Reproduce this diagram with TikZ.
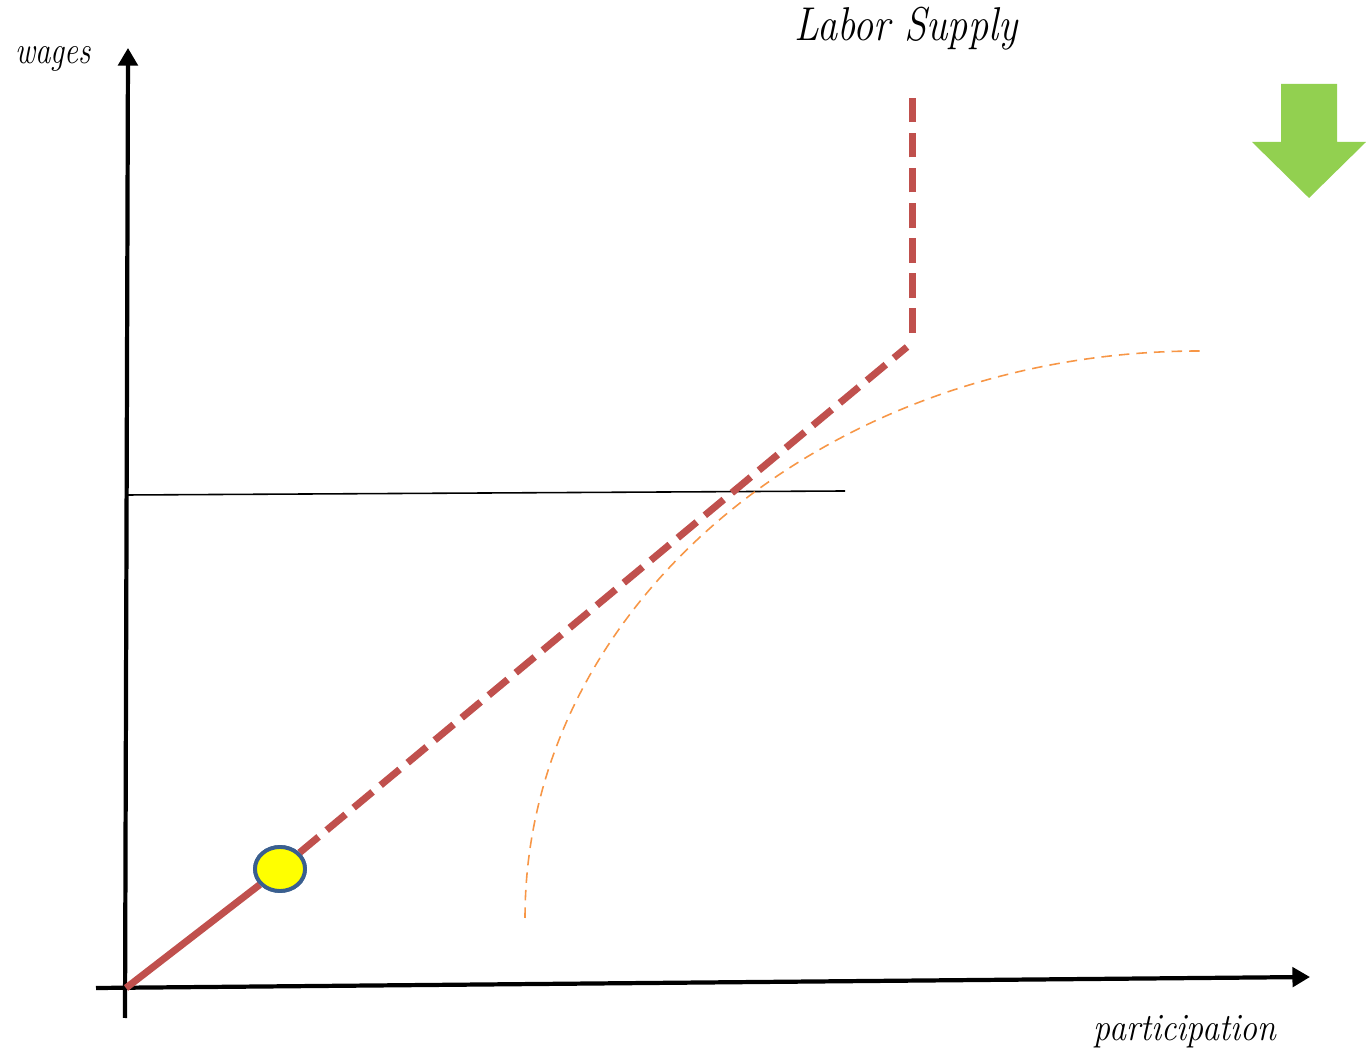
\documentclass[tikz,border=0pt]{standalone}
\definecolor{supplyred}{RGB}{192,80,77}
\definecolor{curveorange}{RGB}{247,150,70}
\definecolor{dotblue}{RGB}{58,95,143}
\definecolor{dotyellow}{RGB}{255,255,0}
\definecolor{arrowgreen}{RGB}{146,208,80}
\usepackage{graphicx}
\usepackage{tikz}
\usetikzlibrary{arrows.meta,shapes.geometric,positioning}
\tikzset{
  axis/.style={line width=1.2pt,-{Triangle[length=5pt,width=5.5pt]}},
  supply/.style={line width=2pt,supplyred},
  supplydash/.style={supply,dash pattern=on 7pt off 3pt},
  dotmark/.style={ellipse,draw=dotblue,fill=dotyellow,line width=1.1pt,
                  minimum width=0.5cm,minimum height=0.44cm,inner sep=0pt},
  label/.style={font=\fontsize{#1}{#1}\selectfont\itshape,inner sep=0pt},
  label/.default=11,
}
\newcommand{\narrow}[2]{\scalebox{#1}[1]{#2}}

\begin{document}
\begin{tikzpicture}
    \useasboundingbox (0,0) rectangle (13.66,10.57);

    % axes
    \coordinate (ybot) at (1.25,0.39);
    \coordinate (ytop) at (1.28,10.09);
    \coordinate (xlft) at (0.96,0.69);
    \coordinate (xrgt) at (13.10,0.80);
    \draw[axis] (ybot) -- (ytop);
    \draw[axis] (xlft) -- (xrgt);

    \node[label]     (wg) at (0.53,9.98)  {\narrow{0.8}{wages}};
    \node[label]     (pt) at (11.85,0.25) {\narrow{0.88}{participation}};
    \node[label=13.5] (ls) at (9.06,10.28) {\narrow{0.85}{Labor Supply}};

    % wage level
    \coordinate (wl) at (1.28,5.62);
    \coordinate (wr) at (8.45,5.66);
    \draw[line width=0.45pt] (wl) -- (wr);

    % other curve
    \coordinate (cs) at (5.25,1.39);
    \draw[curveorange,line width=0.45pt,dash pattern=on 3pt off 2pt]
      (cs) arc[start angle=180,end angle=90,x radius=6.75,y radius=5.67];

    % labor supply
    \coordinate (o)  at (1.26,0.69);
    \coordinate (k1) at (9.07,7.10);
    \coordinate (k2) at (9.12,7.24);
    \coordinate (tp) at (9.12,9.67);
    \node[dotmark] (dot) at (2.80,1.88) {};
    \draw[supply] (o) -- (dot);
    \draw[supplydash] (dot) -- (k1);
    \draw[supplydash] (k2) -- (tp);
    \node[dotmark] at (dot) {};

    % shift arrow
    \fill[arrowgreen] (12.81,9.73) -- (13.37,9.73) -- (13.37,9.15) -- (13.66,9.15)
      -- (13.09,8.59) -- (12.52,9.15) -- (12.81,9.15) -- cycle;
\end{tikzpicture}
\end{document}
